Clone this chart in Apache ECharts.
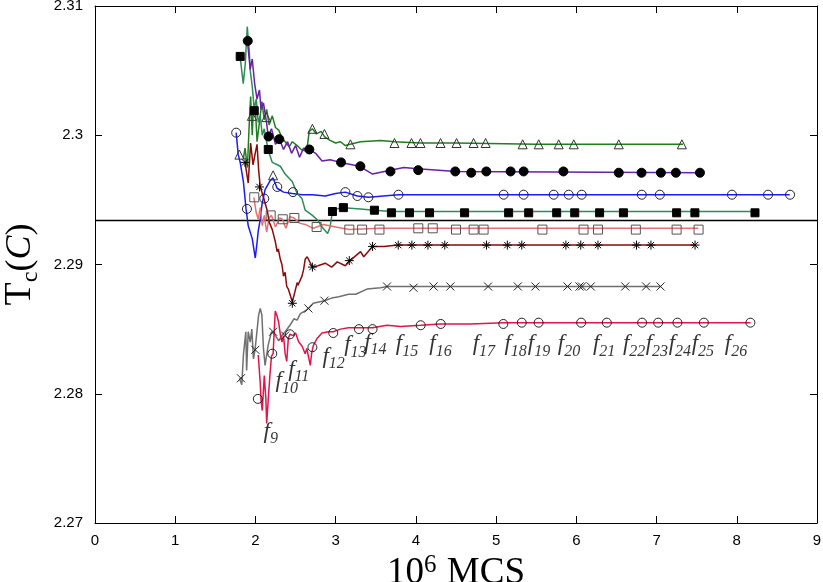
<!DOCTYPE html>
<html>
<head>
<meta charset="utf-8">
<script src="https://cdn.jsdelivr.net/npm/echarts@6/dist/echarts.min.js"></script>
<style>html,body{margin:0;padding:0;background:#fff}#c{width:823px;height:582px}</style>
</head>
<body>
<div id="c"></div>
<script>
// ---------- DATA ----------
const xTicks = [0,1,2,3,4,5,6,7,8,9];
const yTicks = [2.27,2.28,2.29,2.30,2.31];
const refLineValue = 2.2934;

// dark green, open triangles
const triLine = [[1.85,2.2982],[1.87,2.2990],[1.90,2.2975],[1.92,2.3005],[1.94,2.3030],[1.96,2.3000],[1.97,2.3015],[2.00,2.3020],[2.02,2.2995],[2.05,2.3010],[2.08,2.3026],[2.11,2.3012],[2.14,2.3020],[2.17,2.3008],[2.21,2.3015],[2.25,2.3006],[2.29,2.3004],[2.33,2.2998],[2.37,2.2995],[2.42,2.2991],[2.46,2.2995],[2.52,2.2992],[2.57,2.2989],[2.62,2.2988],[2.65,2.2993],[2.67,2.3003],[2.71,2.3005],[2.76,2.3001],[2.82,2.3003],[2.86,2.2999],[2.93,2.2996],[3.00,2.2994],[3.06,2.2995],[3.12,2.2992],[3.18,2.2993],[3.31,2.2995],[3.56,2.2996],[3.73,2.2995],[4.06,2.2994],[4.50,2.2994],[5.50,2.2993],[7.33,2.2993]];
const triMarks = [[1.80,2.2985],[1.956,2.3015],[2.135,2.3014],[2.22,2.2969],[2.71,2.3005],[2.86,2.3001],[3.184,2.2993],[3.733,2.2994],[3.945,2.2994],[4.057,2.2994],[4.307,2.2994],[4.507,2.2994],[4.719,2.2994],[4.869,2.2994],[5.331,2.2993],[5.531,2.2993],[5.780,2.2993],[5.968,2.2993],[6.529,2.2993],[7.316,2.2993]];

// purple, filled circles
const dotLine = [[1.90,2.3073],[1.935,2.3051],[1.96,2.3059],[1.99,2.3040],[2.02,2.3028],[2.05,2.3035],[2.07,2.3020],[2.10,2.3025],[2.14,2.3009],[2.16,2.2999],[2.20,2.3005],[2.25,2.2993],[2.30,2.2997],[2.35,2.2989],[2.40,2.2995],[2.45,2.2986],[2.50,2.2992],[2.55,2.2983],[2.60,2.2990],[2.67,2.2989],[2.75,2.2986],[2.83,2.2980],[2.93,2.2981],[3.06,2.2979],[3.30,2.2976],[3.46,2.2970],[3.68,2.2973],[3.85,2.2975],[4.02,2.2974],[4.50,2.2972],[7.54,2.2971]];
const dotMarks = [[1.904,2.3073],[2.163,2.2999],[2.297,2.2997],[2.672,2.2989],[3.067,2.2979],[3.308,2.2976],[3.683,2.2972],[4.029,2.2973],[4.491,2.2972],[4.690,2.2971],[4.878,2.2972],[5.181,2.2972],[5.343,2.2972],[5.839,2.2972],[6.529,2.2971],[6.813,2.2971],[7.054,2.2971],[7.241,2.2971],[7.541,2.2971]];

// blue, open circles
const ringLine = [[1.76,2.3002],[1.785,2.2985],[1.81,2.2979],[1.85,2.2964],[1.883,2.2943],[1.91,2.2930],[1.96,2.2920],[1.998,2.2905],[2.02,2.2917],[2.035,2.2926],[2.06,2.2935],[2.08,2.2946],[2.12,2.2958],[2.185,2.2965],[2.22,2.2967],[2.27,2.2959],[2.35,2.2956],[2.46,2.2955],[2.58,2.2954],[2.71,2.2954],[2.87,2.2953],[3.00,2.2955],[3.12,2.2956],[3.27,2.2953],[3.41,2.2952],[3.78,2.2954],[8.66,2.2954]];
const ringMarks = [[1.76,2.3002],[1.894,2.2943],[2.11,2.2951],[2.272,2.2960],[2.468,2.2956],[3.121,2.2956],[3.271,2.2953],[3.408,2.2952],[3.783,2.2954],[5.094,2.2954],[5.343,2.2954],[5.718,2.2954],[5.905,2.2954],[6.067,2.2954],[6.816,2.2954],[7.041,2.2954],[7.940,2.2954],[8.390,2.2954],[8.664,2.2954]];

// sea green, filled squares
const boxLine = [[1.81,2.3060],[1.848,2.3040],[1.873,2.3055],[1.898,2.3084],[1.923,2.3065],[1.935,2.3050],[1.96,2.3038],[1.985,2.3020],[2.01,2.3028],[2.035,2.3010],[2.06,2.3015],[2.085,2.3000],[2.11,2.3005],[2.16,2.2988],[2.21,2.2979],[2.31,2.2976],[2.37,2.2970],[2.46,2.2964],[2.52,2.2955],[2.58,2.2951],[2.62,2.2942],[2.71,2.2938],[2.78,2.2934],[2.83,2.2929],[2.90,2.2924],[2.93,2.2929],[2.96,2.2941],[3.00,2.2943],[3.10,2.2944],[3.31,2.2943],[3.48,2.2942],[3.70,2.2941],[8.23,2.2941]];
const boxMarks = [[1.81,2.3061],[1.985,2.3019],[2.16,2.2989],[2.96,2.2941],[3.096,2.2944],[3.483,2.2942],[3.695,2.2940],[3.920,2.2940],[4.170,2.2940],[4.607,2.2940],[5.156,2.2940],[5.406,2.2940],[5.755,2.2940],[5.980,2.2940],[6.290,2.2940],[6.587,2.2940],[7.250,2.2940],[7.478,2.2940],[8.227,2.2940]];

// salmon, open squares
const frameLine = [[1.98,2.2952],[2.01,2.2940],[2.035,2.2935],[2.06,2.2944],[2.085,2.2930],[2.11,2.2938],[2.14,2.2925],[2.17,2.2936],[2.20,2.2938],[2.25,2.2929],[2.30,2.2936],[2.335,2.2935],[2.38,2.2928],[2.43,2.2937],[2.48,2.2936],[2.55,2.2932],[2.62,2.2931],[2.72,2.2928],[2.85,2.2931],[3.00,2.2929],[3.17,2.2927],[3.55,2.2928],[4.00,2.2928],[7.52,2.2928]];
const frameMarks = [[1.985,2.2952],[2.19,2.2938],[2.34,2.2935],[2.485,2.2936],[2.763,2.2929],[3.17,2.2927],[3.33,2.2927],[3.546,2.2927],[4.03,2.2928],[4.21,2.2928],[4.50,2.2927],[4.72,2.2927],[4.844,2.2927],[5.577,2.2927],[6.09,2.2927],[6.27,2.2927],[6.742,2.2927],[7.25,2.2927],[7.524,2.2927]];

// maroon, asterisks
const starLine = [[1.87,2.2979],[1.91,2.2963],[1.94,2.2994],[1.97,2.2977],[2.00,2.2987],[2.02,2.2993],[2.04,2.2973],[2.06,2.2960],[2.10,2.2952],[2.15,2.2941],[2.17,2.2933],[2.21,2.2927],[2.25,2.2917],[2.27,2.2910],[2.285,2.2912],[2.31,2.2904],[2.33,2.2900],[2.35,2.2891],[2.37,2.2894],[2.39,2.2883],[2.41,2.2881],[2.46,2.2871],[2.50,2.2881],[2.52,2.2886],[2.53,2.2884],[2.58,2.2891],[2.60,2.2896],[2.62,2.2904],[2.645,2.2906],[2.71,2.2898],[2.78,2.2899],[2.87,2.2901],[2.95,2.2898],[3.02,2.2902],[3.12,2.2899],[3.18,2.2903],[3.31,2.2910],[3.35,2.2906],[3.46,2.2914],[3.60,2.2914],[3.78,2.2915],[4.00,2.2915],[7.47,2.2915]];
const starMarks = [[1.87,2.2979],[2.05,2.2960],[2.46,2.2870],[2.71,2.2898],[3.17,2.2903],[3.46,2.2914],[3.78,2.2915],[3.95,2.2915],[4.15,2.2915],[4.36,2.2915],[4.88,2.2915],[5.14,2.2915],[5.32,2.2915],[5.87,2.2915],[6.055,2.2915],[6.27,2.2915],[6.75,2.2915],[6.93,2.2915],[7.48,2.2915]];

// gray, crosses
const crossLine = [[1.80,2.2812],[1.83,2.2807],[1.85,2.2830],[1.88,2.2848],[1.89,2.2818],[1.91,2.2848],[1.935,2.2840],[1.955,2.2850],[1.975,2.2827],[1.995,2.2834],[2.04,2.2861],[2.06,2.2866],[2.08,2.2861],[2.10,2.2835],[2.12,2.2822],[2.14,2.2830],[2.16,2.2838],[2.20,2.2848],[2.25,2.2845],[2.29,2.2841],[2.33,2.2845],[2.37,2.2848],[2.43,2.2853],[2.48,2.2858],[2.52,2.2857],[2.56,2.2862],[2.62,2.2864],[2.66,2.2866],[2.72,2.2870],[2.79,2.2871],[2.86,2.2872],[2.95,2.2874],[3.04,2.2875],[3.16,2.2877],[3.25,2.2877],[3.39,2.2881],[3.56,2.2882],[3.64,2.2883],[7.05,2.2883]];
const crossMarks = [[1.819,2.2812],[1.998,2.2834],[2.22,2.2848],[2.37,2.2845],[2.66,2.2866],[2.86,2.2872],[3.64,2.2883],[3.97,2.2882],[4.22,2.2883],[4.43,2.2883],[4.90,2.2883],[5.27,2.2883],[5.49,2.2883],[5.89,2.2883],[6.04,2.2883],[6.07,2.2883],[6.18,2.2883],[6.61,2.2883],[6.87,2.2883],[7.05,2.2883]];

// crimson, open circles (labelled f9..f26)
const redLine = [[2.035,2.2830],[2.06,2.2808],[2.07,2.2795],[2.085,2.2787],[2.10,2.2803],[2.11,2.2814],[2.13,2.2796],[2.14,2.2777],[2.16,2.2796],[2.18,2.2814],[2.20,2.2829],[2.22,2.2831],[2.247,2.2864],[2.27,2.2860],[2.29,2.2855],[2.31,2.2846],[2.33,2.2840],[2.35,2.2845],[2.37,2.2831],[2.39,2.2825],[2.41,2.2843],[2.43,2.2846],[2.47,2.2845],[2.50,2.2847],[2.54,2.2840],[2.58,2.2837],[2.62,2.2831],[2.64,2.2835],[2.684,2.2822],[2.70,2.2831],[2.72,2.2837],[2.77,2.2843],[2.83,2.2847],[2.91,2.2848],[2.97,2.2848],[3.06,2.2850],[3.16,2.2851],[3.30,2.2851],[3.46,2.2851],[3.64,2.2853],[3.81,2.2852],[4.06,2.2853],[4.30,2.2854],[4.68,2.2854],[5.09,2.2855],[8.17,2.2855]];
const redMarks = [[2.03,2.2796],[2.21,2.2831],[2.43,2.2846],[2.71,2.2836],[2.97,2.2847],[3.29,2.2850],[3.46,2.2850],[4.06,2.2853],[4.31,2.2854],[5.09,2.2854],[5.32,2.2855],[5.53,2.2855],[6.06,2.2855],[6.38,2.2855],[6.82,2.2855],[7.02,2.2855],[7.26,2.2855],[7.59,2.2855],[8.17,2.2855]];

// f-labels
const fIndex  = ['9','10','11','12','13','14','15','16','17','18','19','20','21','22','23','24','25','26'];
const fLabelX = [2.19,2.39,2.54,2.975,3.246,3.495,3.89,4.307,4.848,5.243,5.534,5.909,6.346,6.721,7.004,7.291,7.578,7.99];
const fLabelY = [2.2771,2.2810,2.2819,2.2829,2.2838,2.2840,2.2839,2.2839,2.2839,2.2839,2.2839,2.2839,2.2839,2.2839,2.2839,2.2839,2.2839,2.2839];

// ---------- CHART ----------
const chart = echarts.init(document.getElementById('c'), null, {renderer:'canvas'});
const SERIF = '"Liberation Serif","DejaVu Serif",serif';
const SANS = '"Liberation Sans",Arial,sans-serif';
const starPath = 'path://M5,0L5,10M0,5L10,5M1.5,1.5L8.5,8.5M8.5,1.5L1.5,8.5';
const crossPath = 'path://M0,0L10,10M10,0L0,10';

function lineS(data, color, z){
  return {type:'line', data, showSymbol:false, symbol:'none', smooth:false,
    lineStyle:{color, width:1.5}, z, silent:true};
}
function markS(data, symbol, size, fill, stroke, z){
  return {type:'scatter', data, symbol, symbolSize:size, symbolKeepAspect:true,
    itemStyle:{color:fill, borderColor:stroke, borderWidth:1, opacity:1}, z, silent:true};
}

const axisCommon = {
  type:'value', splitLine:{show:false},
  axisLine:{show:true, onZero:false, lineStyle:{color:'#000', width:1}},
  axisTick:{show:true, inside:true, length:7, lineStyle:{color:'#000', width:1}},
};

const labelData = fIndex.map((t,i)=>({value:[fLabelX[i], fLabelY[i]], name:t}));

const option = {
  animation:false,
  backgroundColor:'#fff',
  grid:{left:95, right:6, top:6, bottom:59, containLabel:false, outerBoundsMode:'none'},
  xAxis:[
    Object.assign({}, axisCommon, {min:xTicks[0], max:xTicks[xTicks.length-1], interval:1, position:'bottom',
      axisLabel:{color:'#000', fontFamily:SANS, fontSize:15, margin:10},
      name:'{n|10}{s|6}{n| MCS}', nameLocation:'middle', nameGap:18,
      nameTextStyle:{rich:{
        n:{fontFamily:SERIF, fontSize:37, color:'#000', lineHeight:38, verticalAlign:'bottom'},
        s:{fontFamily:SERIF, fontSize:25, color:'#000', lineHeight:25, verticalAlign:'bottom', padding:[0,1,14,0]}
      }}}),
    Object.assign({}, axisCommon, {min:xTicks[0], max:xTicks[xTicks.length-1], interval:1, position:'top', axisLabel:{show:false}})
  ],
  yAxis:[
    Object.assign({}, axisCommon, {min:yTicks[0], max:yTicks[yTicks.length-1], interval:0.01, position:'left',
      axisLabel:{color:'#000', fontFamily:SANS, fontSize:15, margin:12, formatter:v=>String(+v.toFixed(2))},
      name:'{T|T}{c|c}{p|(}{C|C}{p|)}', nameLocation:'middle', nameGap:54, nameRotate:90,
      nameTextStyle:{rich:{
        T:{fontFamily:SERIF, fontSize:38, color:'#000', lineHeight:40, verticalAlign:'bottom'},
        c:{fontFamily:SERIF, fontSize:24, color:'#000', lineHeight:24, verticalAlign:'bottom', padding:[0,0,-4,0]},
        p:{fontFamily:SERIF, fontSize:36, color:'#000', lineHeight:40, verticalAlign:'bottom'},
        C:{fontFamily:SERIF, fontSize:36, fontStyle:'italic', color:'#000', lineHeight:40, verticalAlign:'bottom'}
      }}}),
    Object.assign({}, axisCommon, {min:yTicks[0], max:yTicks[yTicks.length-1], interval:0.01, position:'right', axisLabel:{show:false}})
  ],
  series:[
    {type:'line', data:[[xTicks[0],refLineValue],[xTicks[xTicks.length-1],refLineValue]], showSymbol:false, symbol:'none',
      lineStyle:{color:'#000', width:1.5}, z:1, silent:true},
    lineS(triLine,'#1f7f1f',2),
    lineS(dotLine,'#6a1fa8',3),
    lineS(ringLine,'#1a1aff',2),
    lineS(boxLine,'#2e8b57',2),
    lineS(frameLine,'#e87070',2),
    lineS(starLine,'#8b0a0a',3),
    lineS(crossLine,'#707070',2),
    lineS(redLine,'#e31448',3),
    markS(triMarks,'triangle',9,'rgba(0,0,0,0)','#333',10),
    markS(dotMarks,'circle',9,'#000','#000',10),
    markS(ringMarks,'circle',9,'rgba(0,0,0,0)','#222',10),
    markS(boxMarks,'rect',8,'#000','#000',10),
    markS(frameMarks,'rect',9,'rgba(0,0,0,0)','#555',10),
    markS(starMarks,starPath,9,'rgba(0,0,0,0)','#000',10),
    markS(crossMarks,crossPath,8,'rgba(0,0,0,0)','#222',10),
    markS(redMarks,'circle',9,'rgba(0,0,0,0)','#222',10),
    {type:'scatter', data:labelData, symbolSize:0, z:11, silent:true, itemStyle:{color:'#000'},
      label:{show:true, position:'inside', color:'#000', textBorderWidth:0,
        formatter:p=>'{a|f}{b|'+p.name+'}',
        rich:{
          a:{fontFamily:SERIF, fontStyle:'italic', fontSize:23, color:'#000', textBorderWidth:0, lineHeight:24, verticalAlign:'bottom'},
          b:{fontFamily:SERIF, fontStyle:'italic', fontSize:16, color:'#000', textBorderWidth:0, lineHeight:16, verticalAlign:'bottom', padding:[0,0,-4,0]}
        }}}
  ]
};
chart.setOption(option);
</script>
</body>
</html>
